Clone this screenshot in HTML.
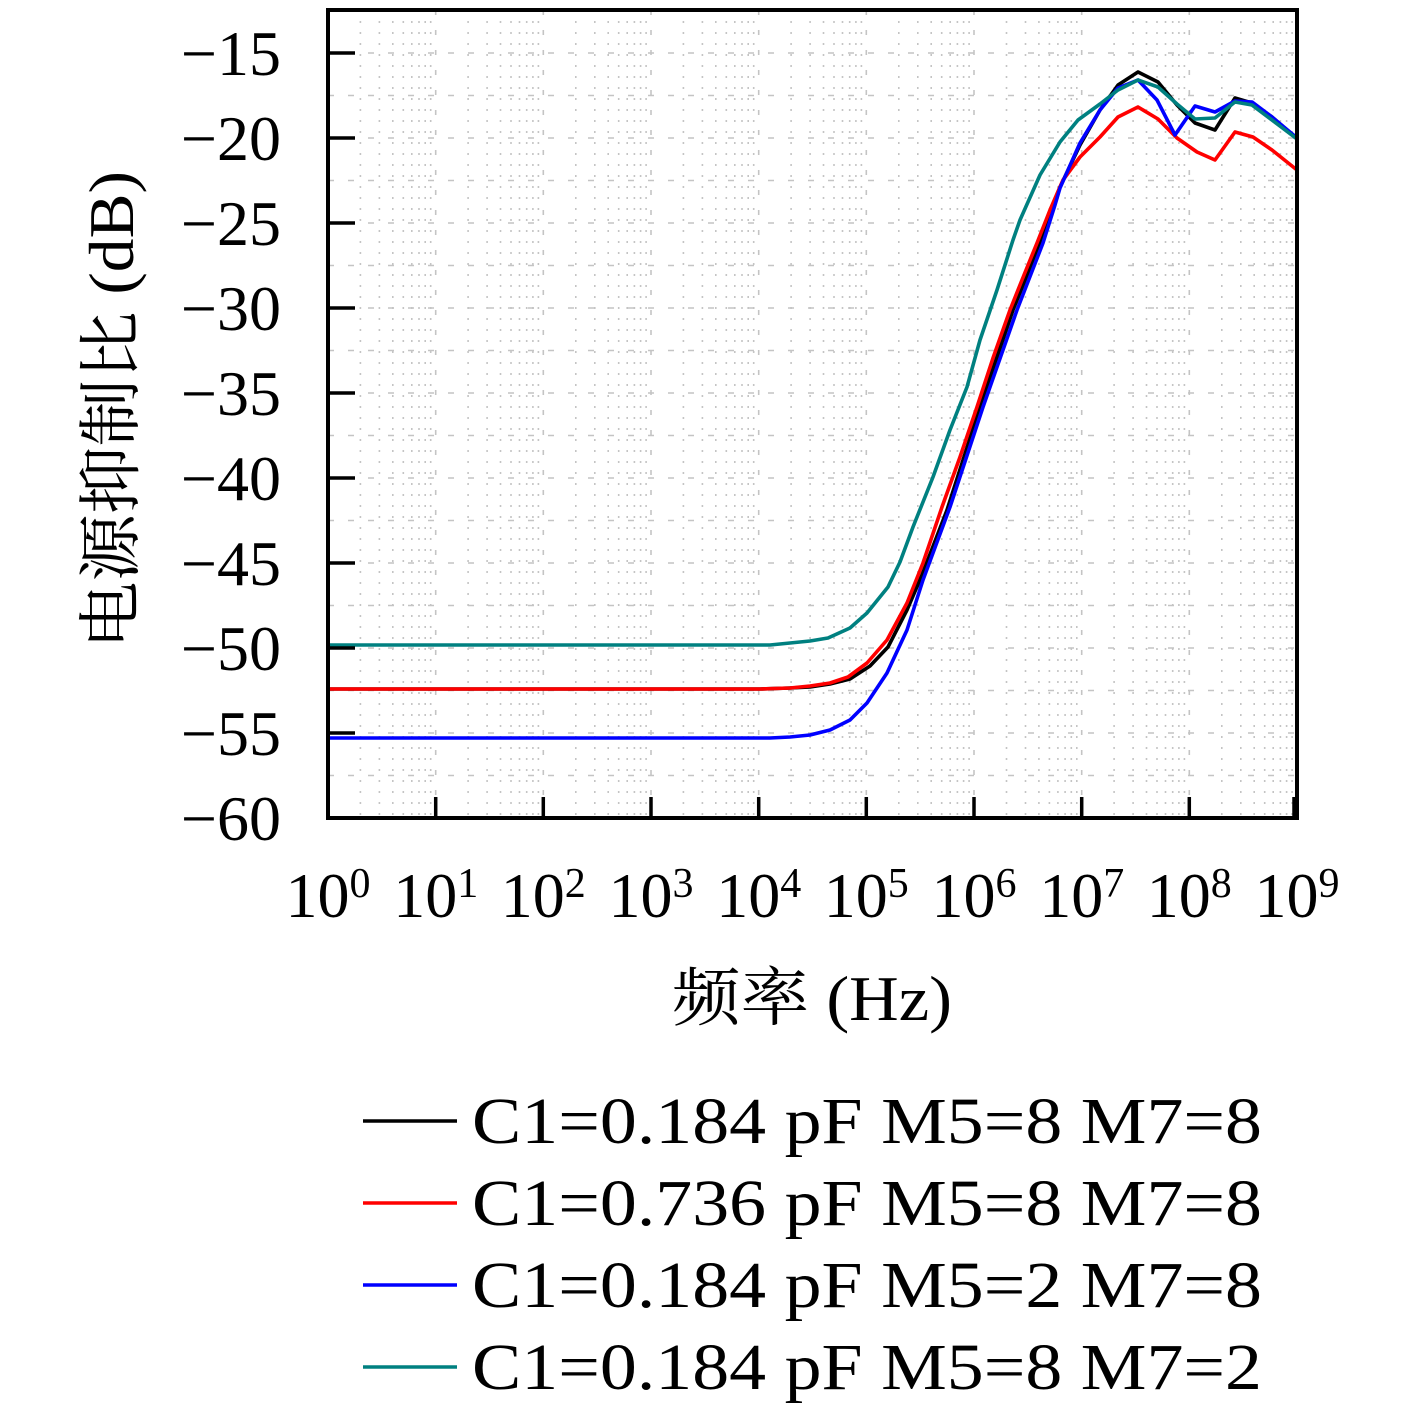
<!DOCTYPE html>
<html><head><meta charset="utf-8"><style>
html,body{margin:0;padding:0;background:#fff;}
svg{display:block;}
text{font-family:"Liberation Serif","Noto Serif CJK SC",serif;fill:#000;}
</style></head><body>
<svg width="1417" height="1410" viewBox="0 0 1417 1410" xmlns="http://www.w3.org/2000/svg">
<defs><clipPath id="c"><rect x="328" y="10" width="969" height="808"/></clipPath></defs>
<rect width="1417" height="1410" fill="#fff"/>
<g id="grid" stroke="#c4c4c4" stroke-width="1.6" fill="none">
<g stroke-dasharray="2,9">
<path d="M360.4 10V818M379.4 10V818M392.8 10V818M403.3 10V818M411.8 10V818M419 10V818M425.2 10V818M430.7 10V818
M468.1 10V818M487.1 10V818M500.5 10V818M511 10V818M519.5 10V818M526.7 10V818M532.9 10V818M538.4 10V818
M575.8 10V818M594.8 10V818M608.2 10V818M618.7 10V818M627.2 10V818M634.4 10V818M640.6 10V818M646.1 10V818
M683.4 10V818M702.4 10V818M715.8 10V818M726.3 10V818M734.8 10V818M742 10V818M748.2 10V818M753.7 10V818
M791.1 10V818M810.1 10V818M823.5 10V818M834 10V818M842.5 10V818M849.7 10V818M855.9 10V818M861.4 10V818
M898.8 10V818M917.8 10V818M931.2 10V818M941.7 10V818M950.2 10V818M957.4 10V818M963.6 10V818M969.1 10V818
M1006.5 10V818M1025.5 10V818M1038.9 10V818M1049.4 10V818M1057.9 10V818M1065.1 10V818M1071.3 10V818M1076.8 10V818
M1114.1 10V818M1133.1 10V818M1146.5 10V818M1157 10V818M1165.5 10V818M1172.7 10V818M1178.9 10V818M1184.4 10V818
M1221.8 10V818M1240.8 10V818M1254.2 10V818M1264.7 10V818M1273.2 10V818M1280.4 10V818M1286.6 10V818M1292.1 10V818"/>
</g>
<g stroke-dasharray="5,15">
<path d="M435.7 10V818M543.3 10V818M651 10V818M758.7 10V818M866.3 10V818M974 10V818M1081.7 10V818M1189.3 10V818"/>
</g>
<g stroke-dasharray="6,14">
<path d="M328 775.5H1297M328 733H1297M328 690.5H1297M328 648H1297M328 605.5H1297M328 563H1297M328 520.5H1297M328 478H1297M328 435.5H1297M328 393H1297M328 350.5H1297M328 308H1297M328 265.5H1297M328 223H1297M328 180.5H1297M328 138H1297M328 95.5H1297M328 53H1297"/>
</g>
</g>
<g clip-path="url(#c)" fill="none" stroke-width="3.6" stroke-linejoin="round">
<polyline stroke="#000000" points="328,689 760,689 790,688 810,687 830,684 850,679 870,666 888,647 907,610 922,575 947,510 980,407 1013,310 1040,243 1053,205 1060,187 1080,145 1100,110 1118,85 1138,72 1158,82 1177,105 1195,123 1215,130 1235,98 1252,103 1272,117 1297,139"/>
<polyline stroke="#ff0000" points="328,689 760,689 790,688 810,686 830,683 848,677 867,663 887,640 907,603 923,563 942,507 960,457 977,407 993,358 1010,310 1024,275 1037,243 1050,210 1063,180 1080,157 1100,137 1118,117 1138,107 1158,119 1177,138 1197,152 1215,160 1235,132 1253,137 1272,150 1297,170"/>
<polyline stroke="#0000ff" points="328,738 770,738 790,737 810,735 830,730 850,720 867,703 887,673 907,630 923,580 950,507 983,407 1017,310 1043,243 1055,205 1060,188 1080,143 1100,110 1118,88 1138,80 1157,100 1175,135 1195,106 1215,112 1235,101 1252,102 1272,117 1297,138"/>
<polyline stroke="#008080" points="328,645 770,645 790,643 810,641 828,638 850,628 867,613 888,587 900,562 913,527 933,477 950,430 967,387 980,340 997,290 1013,240 1020,220 1040,175 1060,142 1078,120 1100,104 1118,90 1138,80 1158,87 1177,104 1195,119 1215,118 1235,102 1252,105 1272,120 1297,139"/>
</g>
<g stroke="#000" stroke-width="3.5">
<path d="M328 733H355M328 648H355M328 563H355M328 478H355M328 393H355M328 308H355M328 223H355M328 138H355M328 53H355"/>
<path d="M435.7 818V797M543.3 818V797M651 818V797M758.7 818V797M866.3 818V797M974 818V797M1081.7 818V797M1189.3 818V797M1294 818V797"/>
</g>
<rect x="328" y="10" width="969" height="808" fill="none" stroke="#000" stroke-width="4"/>
<g font-size="64" text-anchor="end">
<text x="281" y="840">−60</text>
<text x="281" y="755">−55</text>
<text x="281" y="670">−50</text>
<text x="281" y="585">−45</text>
<text x="281" y="500">−40</text>
<text x="281" y="415">−35</text>
<text x="281" y="330">−30</text>
<text x="281" y="245">−25</text>
<text x="281" y="160">−20</text>
<text x="281" y="75">−15</text>
</g>
<g font-size="64" text-anchor="middle">
<text x="328" y="917">10<tspan font-size="42" dy="-20">0</tspan></text>
<text x="435.7" y="917">10<tspan font-size="42" dy="-20">1</tspan></text>
<text x="543.3" y="917">10<tspan font-size="42" dy="-20">2</tspan></text>
<text x="651" y="917">10<tspan font-size="42" dy="-20">3</tspan></text>
<text x="758.7" y="917">10<tspan font-size="42" dy="-20">4</tspan></text>
<text x="866.3" y="917">10<tspan font-size="42" dy="-20">5</tspan></text>
<text x="974" y="917">10<tspan font-size="42" dy="-20">6</tspan></text>
<text x="1081.7" y="917">10<tspan font-size="42" dy="-20">7</tspan></text>
<text x="1189.3" y="917">10<tspan font-size="42" dy="-20">8</tspan></text>
<text x="1297" y="917">10<tspan font-size="42" dy="-20">9</tspan></text>
</g>
<text x="672" y="1020" font-size="64" textLength="280" lengthAdjust="spacingAndGlyphs">频率 (Hz)</text>
<text transform="translate(133,410) rotate(-90)" font-size="64" text-anchor="middle" textLength="478" lengthAdjust="spacingAndGlyphs">电源抑制比 (dB)</text>
<g stroke-width="3.5">
<line x1="363" y1="1121" x2="457" y2="1121" stroke="#000000"/>
<line x1="363" y1="1203" x2="457" y2="1203" stroke="#ff0000"/>
<line x1="363" y1="1285" x2="457" y2="1285" stroke="#0000ff"/>
<line x1="363" y1="1367" x2="457" y2="1367" stroke="#008080"/>
</g>
<g font-size="66">
<text x="472" y="1143" textLength="790" lengthAdjust="spacingAndGlyphs">C1=0.184 pF M5=8 M7=8</text>
<text x="472" y="1225" textLength="790" lengthAdjust="spacingAndGlyphs">C1=0.736 pF M5=8 M7=8</text>
<text x="472" y="1307" textLength="790" lengthAdjust="spacingAndGlyphs">C1=0.184 pF M5=2 M7=8</text>
<text x="472" y="1389" textLength="790" lengthAdjust="spacingAndGlyphs">C1=0.184 pF M5=8 M7=2</text>
</g>
</svg>
</body></html>
